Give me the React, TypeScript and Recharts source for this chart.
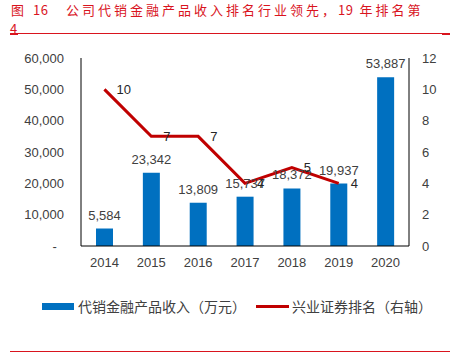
import React from "react";
import {
  ComposedChart,
  Bar,
  Line,
  XAxis,
  YAxis,
  LabelList,
} from "recharts";

const years = ["2014", "2015", "2016", "2017", "2018", "2019", "2020"];
const income = [5584, 23342, 13809, 15737, 18372, 19937, 53887];
const rank: (number | null)[] = [10, 7, 7, 4, 5, 4, null];
const leftTicks = [0, 10000, 20000, 30000, 40000, 50000, 60000];
const rightTicks = [0, 2, 4, 6, 8, 10, 12];

const BLUE = "#0070C0";
const DARK_RED = "#C00000";
const TITLE_RED = "#D9141E";
const TEXT = "#404040";
const NUM_FONT = "'Liberation Sans', Arial, sans-serif";
const CJK_FONT = "'Noto Sans CJK SC', sans-serif";

const data = years.map((year, i) => ({
  year,
  income: income[i],
  rank: rank[i],
}));

const fmt = (v: number) => v.toLocaleString("en-US");

const App: React.FC = () => {
  const num = { letterSpacing: 0.5 };
  return (
    <div
      style={{
        position: "absolute",
        left: 0,
        top: 0,
        width: 457,
        height: 353,
        background: "#fff",
        overflow: "hidden",
      }}
    >
      {/* title */}
      <div
        style={{
          position: "absolute",
          left: 11,
          top: 0,
          fontFamily: CJK_FONT,
          fontSize: 13,
          letterSpacing: 3,
          lineHeight: "19px",
          color: TITLE_RED,
          whiteSpace: "nowrap",
        }}
      >
        <div>
          图 <span style={num}>16</span>&nbsp;&nbsp;&nbsp;公司代销金融产品收入排名行业领先，<span style={num}>19</span> 年排名第
        </div>
        <div style={{ marginLeft: -1 }}>4</div>
      </div>
      <div style={{ position: "absolute", left: 10, top: 33, width: 440, height: 1, background: TITLE_RED }} />
      <div style={{ position: "absolute", left: 10, top: 33, width: 8, height: 2, background: TITLE_RED }} />
      <div style={{ position: "absolute", left: 442, top: 33, width: 8, height: 2, background: TITLE_RED }} />

      <div style={{ position: "absolute", left: 0, top: 0 }}>
        <ComposedChart
          width={457}
          height={280}
          data={data}
          margin={{ top: 58, right: 0, left: 0, bottom: 0 }}
        >
          <XAxis
            dataKey="year"
            height={34}
            interval={0}
            axisLine={{ stroke: "#000" }}
            tickLine={false}
            tickSize={0}
            tickMargin={12}
            tick={{ fill: TEXT, fontSize: 13, fontFamily: NUM_FONT }}
          />
          <YAxis
            yAxisId="left"
            width={81}
            domain={[0, 60000]}
            ticks={leftTicks}
            axisLine={{ stroke: "#000" }}
            tickLine={false}
            tickSize={0}
            tickMargin={17}
            tickFormatter={(v: number) => (v === 0 ? "-\u00a0\u00a0" : fmt(v))}
            tick={{ fill: TEXT, fontSize: 13, fontFamily: NUM_FONT }}
          />
          <YAxis
            yAxisId="right"
            orientation="right"
            width={48}
            domain={[0, 12]}
            ticks={rightTicks}
            axisLine={{ stroke: "#000" }}
            tickLine={false}
            tickSize={0}
            tickMargin={13}
            tick={{ fill: TEXT, fontSize: 13, fontFamily: NUM_FONT }}
          />
          <Bar
            yAxisId="left"
            dataKey="income"
            fill={BLUE}
            barSize={17}
            isAnimationActive={false}
          >
            <LabelList
              dataKey="income"
              position="top"
              offset={9}
              formatter={(v: any) => fmt(Number(v))}
              style={{ fill: TEXT, fontSize: 13, fontFamily: NUM_FONT }}
            />
          </Bar>
          <Line
            yAxisId="right"
            dataKey="rank"
            stroke={DARK_RED}
            strokeWidth={3}
            dot={false}
            activeDot={false}
            isAnimationActive={false}
          >
            <LabelList
              dataKey="rank"
              position="right"
              offset={12}
              style={{ fill: "#262626", fontSize: 13, fontFamily: NUM_FONT }}
            />
          </Line>
        </ComposedChart>
      </div>

      {/* legend */}
      <div
        style={{
          position: "absolute",
          left: 42,
          top: 296,
          display: "flex",
          alignItems: "center",
          fontFamily: CJK_FONT,
          fontSize: 14,
          color: TEXT,
          whiteSpace: "nowrap",
        }}
      >
        <span style={{ display: "inline-block", width: 32, height: 7, background: BLUE, marginRight: 4 }} />
        <span>代销金融产品收入（万元）</span>
        <span style={{ display: "inline-block", width: 33, height: 3, background: DARK_RED, marginLeft: 10, marginRight: 3 }} />
        <span>兴业证券排名（右轴）</span>
      </div>

      <div style={{ position: "absolute", left: 10, top: 351, width: 440, height: 1, background: TITLE_RED }} />
    </div>
  );
};

export default App;
